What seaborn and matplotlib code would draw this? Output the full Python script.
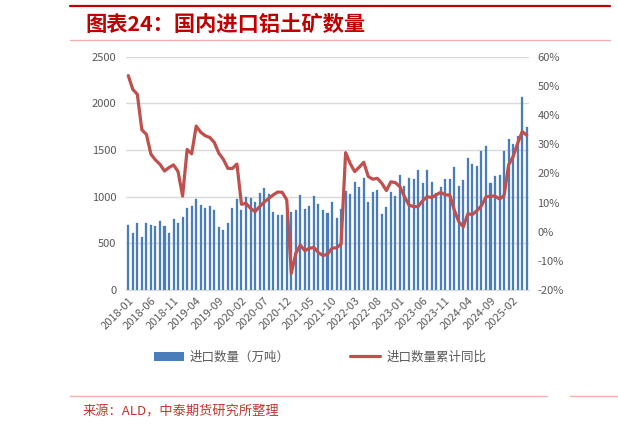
import numpy as np
import pandas as pd
import matplotlib
matplotlib.use('Agg')
import matplotlib.pyplot as plt
import seaborn as sns
from matplotlib.lines import Line2D
from matplotlib.patches import Patch

# monthly data 2018-01 .. 2025-05
months = pd.date_range('2018-01-01', periods=89, freq='MS').strftime('%Y-%m').tolist()

import_volume = [
    700, 607, 721, 571, 721, 696, 689, 739, 689, 607, 761, 721,
    786, 882, 900, 971, 914, 882, 900, 861, 671, 639, 721, 882,
    971, 861, 996, 989, 946, 1039, 1093, 1028, 836, 803, 805, 830,
    836, 861, 1014, 871, 903, 1011, 921, 857, 825, 946, 768, 864,
    1061, 1028, 1161, 1107, 1196, 939, 1053, 1071, 811, 893, 1050, 1011,
    1232, 1114, 1200, 1189, 1286, 1150, 1286, 1157, 1043, 1107, 1189, 1186,
    1314, 1114, 1179, 1418, 1350, 1328, 1493, 1546, 1143, 1221, 1232, 1493,
    1614, 1560, 1650, 2071, 1750,
]

cum_yoy = [
    53.5, 48.8, 47.1, 34.9, 33.4, 26.6, 24.6, 23.1, 20.8, 22.0, 22.9, 20.6,
    12.2, 28.2, 26.7, 36.2, 34.1, 32.9, 32.3, 30.6, 26.9, 24.8, 21.7, 21.7,
    23.2, 9.4, 9.7, 8.0, 6.9, 8.6, 10.1, 11.4, 12.6, 13.6, 13.5, 10.9,
    -14.3, -7.4, -4.6, -6.5, -5.7, -5.4, -7.2, -8.2, -7.7, -5.7, -5.5, -4.3,
    27.1, 23.4, 20.6, 22.1, 23.8, 18.9, 18.0, 18.3, 16.6, 14.1, 17.1, 16.8,
    15.4, 12.0, 9.1, 8.6, 8.6, 10.6, 12.0, 11.7, 12.6, 13.5, 12.6, 12.6,
    7.4, 3.4, 1.7, 6.1, 5.9, 7.2, 8.9, 11.9, 12.2, 12.2, 11.2, 12.4,
    22.9, 25.8, 30.3, 34.3, 33.1,
]

bar_label = '进口数量（万吨）'
line_label = '进口数量累计同比'

df = pd.DataFrame({'month': months, 'volume': import_volume, 'yoy': cum_yoy})
df['pos'] = np.arange(len(df))

sns.set_style('white')
plt.rcParams['font.family'] = ['Noto Sans CJK SC', 'DejaVu Sans']

bar_color = '#4a7ebb'
line_color = '#c0504d'
text_gray = '#595959'
grid_gray = '#d9d9d9'

fig = plt.figure(figsize=(6.18, 4.30), dpi=100)
ax = fig.add_axes([126 / 618, 1 - 290 / 430, (529 - 126) / 618, (290 - 56.7) / 430])

sns.barplot(data=df, x='month', y='volume', color=bar_color, width=0.45,
            saturation=1, edgecolor=bar_color, linewidth=0.2, ax=ax, zorder=2)
ax.set_ylim(0, 2500)
ax.set_yticks(range(0, 2501, 500))
ax.yaxis.grid(True, color=grid_gray, linewidth=1, zorder=0)
ax.set_axisbelow(True)
ax.set_xlim(-0.5, len(df) - 0.5)
ax.set_xlabel('')
ax.set_ylabel('')

tick_idx = list(range(0, len(df), 5))
ax.set_xticks(tick_idx)
ax.set_xticklabels([months[i] for i in tick_idx], rotation=45, ha='right',
                   rotation_mode='anchor', fontsize=8, color=text_gray)
ax.set_xticks([i - 0.5 for i in tick_idx], minor=True)
ax.tick_params(axis='x', which='major', length=0, pad=4)
ax.tick_params(axis='x', which='minor', length=4, color=grid_gray, width=1)
ax.tick_params(axis='y', length=0, pad=7, labelsize=8, labelcolor=text_gray)

for s in ['top', 'left', 'right']:
    ax.spines[s].set_visible(False)
ax.spines['bottom'].set_color(grid_gray)

ax2 = ax.twinx()
sns.lineplot(data=df, x='pos', y='yoy', color=line_color, linewidth=2.3, ax=ax2)
ax2.set_ylim(-20, 60)
ax2.set_yticks(range(-20, 61, 10))
ax2.set_yticklabels([f'{v}%' for v in range(-20, 61, 10)])
ax2.tick_params(axis='y', length=0, pad=6, labelsize=8, labelcolor=text_gray)
ax2.set_xlim(-0.5, len(df) - 0.5)
ax2.set_xlabel('')
ax2.set_ylabel('')
for s in ax2.spines.values():
    s.set_visible(False)

handles = [Patch(facecolor=bar_color, edgecolor='none'),
           Line2D([0], [0], color=line_color, linewidth=2.3)]
fig.legend(handles, [bar_label, line_label], loc='center',
           bbox_to_anchor=(320 / 618, 1 - 357 / 430), ncol=2, frameon=False,
           fontsize=9, labelcolor=text_gray, handlelength=2.4, handleheight=0.7,
           columnspacing=4.8, handletextpad=0.5)

# title and source, with the rules above and below
fig.add_artist(Line2D([70 / 618, 610 / 618], [1 - 6 / 430, 1 - 6 / 430],
                      color='#c00000', linewidth=1.6))
fig.add_artist(Line2D([70 / 618, 610 / 618], [1 - 40 / 430, 1 - 40 / 430],
                      color='#f0b0b0', linewidth=1))
fig.text(85 / 618, 1 - 24 / 430, '图表24：国内进口铝土矿数量', fontsize=15.3,
         fontweight='bold', color='#c00000', va='center', ha='left')

fig.add_artist(Line2D([70 / 618, 547 / 618], [1 - 396 / 430, 1 - 396 / 430],
                      color='#f0b0b0', linewidth=1))
fig.add_artist(Line2D([570 / 618, 618 / 618], [1 - 396 / 430, 1 - 396 / 430],
                      color='#f0b0b0', linewidth=1))
fig.text(83 / 618, 1 - 412 / 430, '来源：ALD，中泰期货研究所整理', fontsize=9.5,
         color='#c0392b', va='center', ha='left')

fig.savefig('out.png', dpi=100)
